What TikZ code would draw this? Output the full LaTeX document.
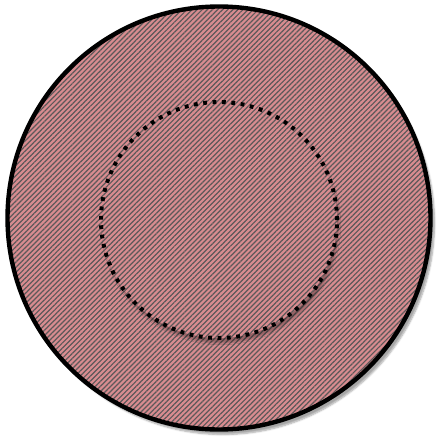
\documentclass[tikz,border=0pt]{standalone}
\usepackage{xcolor}
\definecolor{discfill}{HTML}{D88C90}
\definecolor{hatch}{HTML}{5C5859}
\usetikzlibrary{patterns.meta, shadows.blur}

\begin{document}
\begin{tikzpicture}[
        x=1pt, y=1pt,
        disc/.style={
            circle,
            inner sep=0pt,
            preaction={fill=discfill},
            pattern={Lines[angle=45, distance=3.6pt, line width=1.2pt]},
            pattern color=hatch
        },
        outer_disc/.style={
            blur shadow={shadow xshift=4pt, shadow yshift=-5pt, shadow blur steps=6, shadow opacity=35},
            disc,
            minimum size=423pt,
            draw=black,
            line width=4.4pt
        },
        inner_disc/.style={
            blur shadow={shadow xshift=2pt, shadow yshift=-5pt, shadow blur steps=5, shadow opacity=30},
            disc,
            minimum size=236pt,
            draw=black,
            line width=4pt,
            dash pattern=on 3.8pt off 5.6pt
        }
    ]
    \useasboundingbox (0,0) rectangle (436,-441);

    % outer plate
    \node[outer_disc] (outer) at (219,-218) {};

    % inner region
    \node[inner_disc] (inner) at (219,-220) {};

\end{tikzpicture}
\end{document}
